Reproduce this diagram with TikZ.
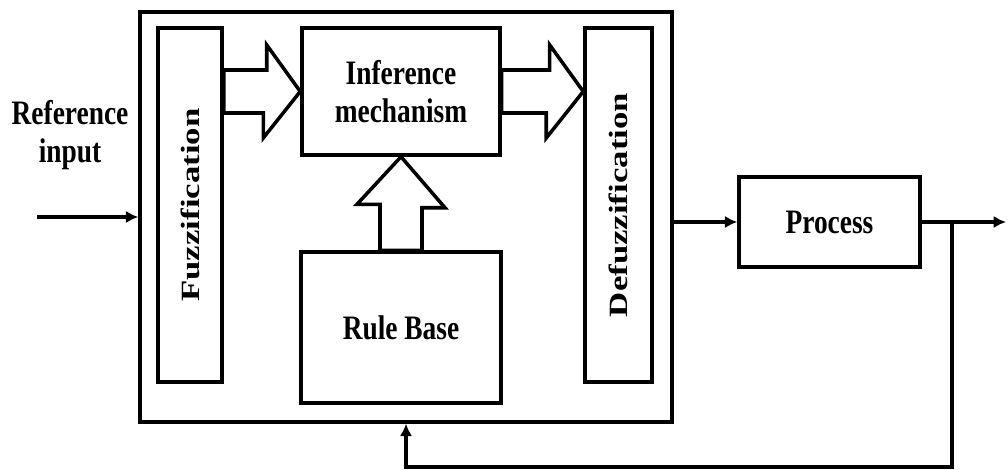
\documentclass[tikz,border=0pt]{standalone}
\usepackage{fontspec}
\setmainfont[FakeStretch=0.8]{Liberation Serif}
\newfontfamily\tallfont[FakeStretch=1.32]{Liberation Serif}
\usetikzlibrary{arrows.meta, positioning, calc}

\tikzset{
  block/.style={draw, line width=2pt, fill=white, inner sep=0pt, align=center,
    font=\fontsize{19.5}{22}\selectfont\bfseries},
  slab/.style={draw, line width=2pt, fill=white, inner sep=0pt, rotate=90,
    minimum width=7.08cm, font=\tallfont\fontsize{15}{18}\selectfont\bfseries},
  fatarrow/.style={draw, line width=2pt, fill=white, line join=miter},
  signal/.style={line width=1.8pt, -{Latex[length=7pt, width=7pt]}}
}

\begin{document}
\begin{tikzpicture}[x=0.02cm, y=-0.02cm]
  \useasboundingbox (0,0) rectangle (1008,470);

  % controller frame and its blocks
  \node[draw, line width=2pt, minimum width=10.64cm, minimum height=8.2cm] (ctrl) at (406,217) {};
  \node[slab, minimum height=1.28cm] (fuzz) at (190,205) {Fuzzification};
  \node[slab, minimum height=1.34cm] (defuzz) at (618.5,205) {Defuzzification};
  \node[block, minimum width=3.96cm, minimum height=2.54cm] (infer) at (401,91.5) {Inference\\mechanism};
  \node[block, minimum width=4cm, minimum height=3.02cm] (rule) at (401,327.5) {Rule Base};

  % plant
  \node[block, minimum width=3.62cm, minimum height=1.8cm] (proc) at (829.5,222) {Process};
  \node[align=center, font=\fontsize{19.5}{22}\selectfont\bfseries] (refin) at (70,135) {Reference\\input};

  % wide arrows inside the controller
  \draw[fatarrow] ($(fuzz.south|-infer.west)+(0,-21.5)$) -- ++(43,0) -- ++(0,-25) -- (infer.west)
    -- ++(-37,46.5) -- ++(0,-25) -- ($(fuzz.south|-infer.west)+(0,21.5)$) -- cycle;
  \draw[fatarrow] ($(infer.east)+(0,-21.5)$) -- ++(48,0) -- ++(0,-25) -- (defuzz.north|-infer.east)
    -- ++(-37,46.5) -- ++(0,-25) -- ($(infer.east)+(0,21.5)$) -- cycle;
  \draw[fatarrow] ($(rule.north)+(-21,0)$) -- ++(0,-46) -- ++(-23,0) -- (infer.south)
    -- ++(44,51) -- ++(-23,0) -- ($(rule.north)+(21,0)$) -- cycle;

  % signals
  \coordinate (in) at (37,217);
  \coordinate (out) at (1006,222);
  \coordinate (tap) at (952,222);
  \coordinate (low) at (952,467);
  \draw[signal] (in) -- (ctrl.west);
  \draw[signal] (ctrl.east|-proc.west) -- (proc.west);
  \draw[signal] (proc.east) -- (out);
  \draw[signal] (tap) -- (low) -- (low-|ctrl.south) -- (ctrl.south);
\end{tikzpicture}
\end{document}
